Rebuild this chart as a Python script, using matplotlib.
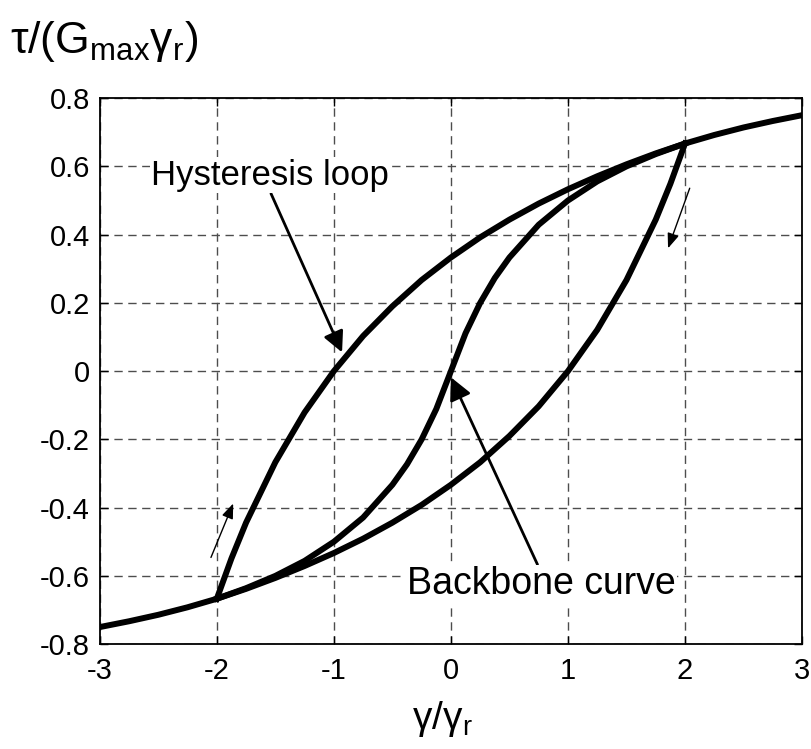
import numpy as np
import matplotlib
matplotlib.use("Agg")
from matplotlib import pyplot as plt

plt.rcParams['font.family'] = ['Liberation Sans', 'DejaVu Sans']
plt.rcParams['mathtext.default'] = 'regular'
plt.rcParams['axes.unicode_minus'] = False

# strain ratio gamma/gamma_r
x_bb = [-3, -2.75, -2.5, -2.25, -2, -1.75, -1.5, -1.25, -1, -0.75, -0.5, -0.375, -0.25, -0.125,
        0, 0.125, 0.25, 0.375, 0.5, 0.75, 1, 1.25, 1.5, 1.75, 2, 2.25, 2.5, 2.75, 3]
tau_bb = [-0.75, -0.733, -0.714, -0.692, -0.667, -0.636, -0.6, -0.556, -0.5, -0.429, -0.333, -0.273, -0.2, -0.111,
          0.0, 0.111, 0.2, 0.273, 0.333, 0.429, 0.5, 0.556, 0.6, 0.636, 0.667, 0.692, 0.714, 0.733, 0.75]

# unloading branch from (2, 0.667) down to (-2, -0.667)
x_un = [2, 1.875, 1.75, 1.5, 1.25, 1, 0.75, 0.5, 0.25, 0, -0.25, -0.5, -0.75, -1,
        -1.25, -1.5, -1.75, -2]
tau_un = [0.667, 0.549, 0.444, 0.267, 0.121, 0.0, -0.103, -0.19, -0.267, -0.333, -0.392,
          -0.444, -0.491, -0.533, -0.571, -0.606, -0.638, -0.667]

# reloading branch from (-2, -0.667) up to (2, 0.667)
x_re = [-2, -1.875, -1.75, -1.5, -1.25, -1, -0.75, -0.5, -0.25, 0, 0.25, 0.5, 0.75, 1,
        1.25, 1.5, 1.75, 2]
tau_re = [-0.667, -0.549, -0.444, -0.267, -0.121, 0.0, 0.103, 0.19, 0.267, 0.333, 0.392,
          0.444, 0.491, 0.533, 0.571, 0.606, 0.638, 0.667]

fig = plt.figure(figsize=(8.11, 7.49), dpi=100)
ax = fig.add_axes([0.123, 0.140, 0.866, 0.729])

lw = 4.3
ax.plot(x_bb, tau_bb, color='k', lw=lw, solid_joinstyle='round', zorder=3)
ax.plot(x_un, tau_un, color='k', lw=lw, solid_joinstyle='round', zorder=3)
ax.plot(x_re, tau_re, color='k', lw=lw, solid_joinstyle='round', zorder=3)

ax.set_xlim(-3, 3)
ax.set_ylim(-0.8, 0.8)
ax.set_xticks([-3, -2, -1, 0, 1, 2, 3])
ax.set_yticks([-0.8, -0.6, -0.4, -0.2, 0, 0.2, 0.4, 0.6, 0.8])
ax.set_yticklabels(['-0.8', '-0.6', '-0.4', '-0.2', '0', '0.2', '0.4', '0.6', '0.8'])
ax.tick_params(direction='in', length=6, width=1, labelsize=21, top=True, right=True)
ax.tick_params(axis='y', pad=7)
ax.tick_params(axis='x', pad=9)
ax.grid(True, color='0.3', lw=1, dashes=(6, 4))
for s in ax.spines.values():
    s.set_linewidth(1.3)

# annotations
head = '-|>,head_length=0.5,head_width=0.25'
ax.annotate('Hysteresis loop', xy=(-0.93, 0.055), xytext=(-2.56, 0.574),
            fontsize=25, ha='left', va='center',
            bbox=dict(boxstyle='square,pad=0.05', fc='white', ec='none'),
            arrowprops=dict(arrowstyle=head, color='k', lw=2,
                            shrinkA=0, shrinkB=0, relpos=(0.5, 0.0)), zorder=4)
ax.annotate('Backbone curve', xy=(0.0, -0.018), xytext=(0.77, -0.625),
            fontsize=27, ha='center', va='center',
            bbox=dict(boxstyle='square,pad=0.05', fc='white', ec='none'),
            arrowprops=dict(arrowstyle=head, color='k', lw=2,
                            shrinkA=0, shrinkB=0, relpos=(0.49, 1.0)), zorder=4)

# direction arrows
ax.annotate('', xy=(-1.86, -0.388), xytext=(-2.05, -0.546),
            arrowprops=dict(arrowstyle='-|>,head_length=0.9,head_width=0.35', color='k', lw=1,
                            shrinkA=0, shrinkB=0))
ax.annotate('', xy=(1.855, 0.36), xytext=(2.04, 0.536),
            arrowprops=dict(arrowstyle='-|>,head_length=0.9,head_width=0.35', color='k', lw=1,
                            shrinkA=0, shrinkB=0))

fig.text(0.012, 0.945, r'τ/(G$_{max}$γ$_r$)', fontsize=32, ha='left', va='center')
fig.text(0.545, 0.040, r'γ/γ$_r$', fontsize=28, ha='center', va='center')

fig.savefig('out.png', dpi=100)
